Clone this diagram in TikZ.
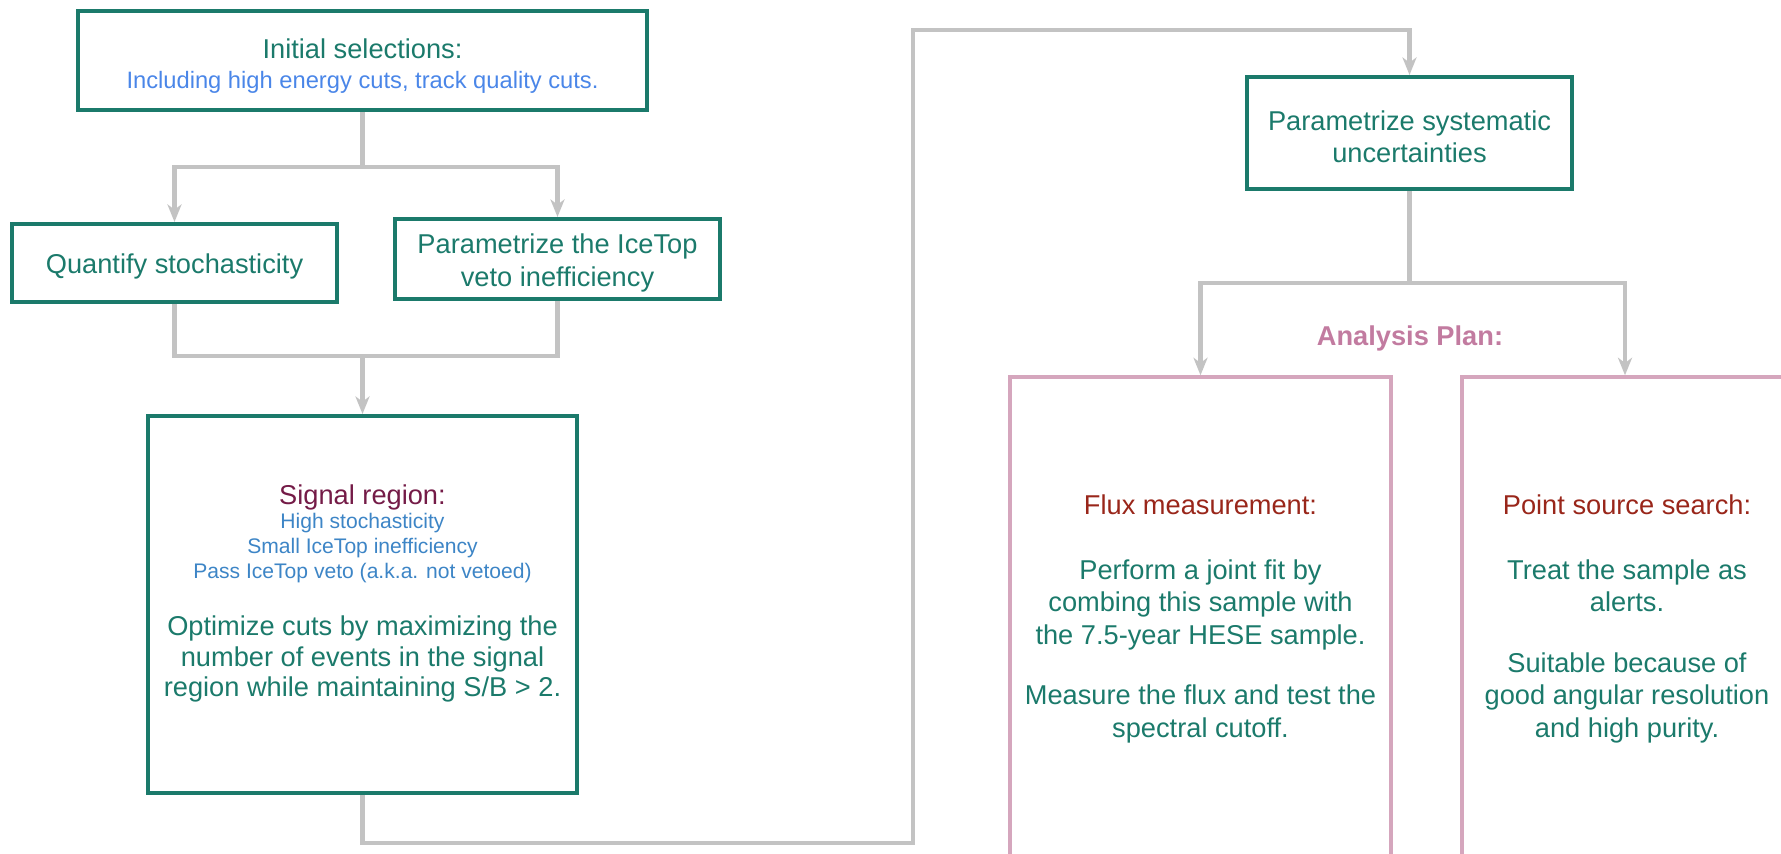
\documentclass[tikz,border=0pt]{standalone}
\usepackage{fontspec}
\setmainfont{Liberation Sans}
\usepackage{xcolor}
\usepackage{tikz}
\usetikzlibrary{arrows.meta}

\definecolor{stagegreen}{HTML}{1B7A6B}
\definecolor{cutblue}{HTML}{4A86E8}
\definecolor{regionblue}{HTML}{3D85C6}
\definecolor{regionred}{HTML}{741B47}
\definecolor{planred}{HTML}{99261A}
\definecolor{planpink}{HTML}{D5A6BD}
\definecolor{planlabel}{HTML}{C27BA0}
\definecolor{flowgray}{HTML}{C3C3C3}

% strut that pushes a box label a little down
\newcommand{\lowerby}[1]{\rule{0pt}{#1}}

\begin{document}
\begin{tikzpicture}[x=0.02cm, y=-0.02cm,
                stage/.style={draw=stagegreen, line width=2.3pt, text=stagegreen, align=center, inner sep=0pt,
                    font=\fontsize{15.5}{18.5}\selectfont},
                plan/.style={draw=planpink, line width=2pt},
                note/.style={align=center, text=stagegreen, font=\fontsize{15.5}{18.5}\selectfont},
                wire/.style={draw=flowgray, line width=2.8pt},
                flow/.style={wire, -{Stealth[length=10pt, width=8pt, inset=3pt]}}
            ]
                \useasboundingbox (0,0) rectangle (1781,853);

                % Selection steps (left column)
                \node[stage, minimum width=11.38cm, minimum height=1.98cm] (init) at (362.5,60.5)
                    {\lowerby{18pt}Initial selections:\\[-1.3pt]{\color{cutblue}\fontsize{13.5}{16}\selectfont Including high energy cuts, track quality cuts.}};
                \node[stage, minimum width=6.5cm, minimum height=1.56cm] (quant) at (174.5,263) {\lowerby{15pt}Quantify stochasticity};
                \node[stage, minimum width=6.5cm, minimum height=1.6cm] (iceveto) at (557.5,259) {\lowerby{15.5pt}Parametrize the IceTop\\veto inefficiency};
                \node[stage, minimum width=8.58cm, minimum height=7.54cm] (signal) at (362.5,604.5) {};

                % Text of the signal region box
                \node[note, text=regionred] (sigtitle) at (362.5,497.5) {Signal region:};
                \node[note, text=regionblue, font=\fontsize{12}{14.2}\selectfont] (sigcuts) at (362.5,548)
                    {High stochasticity\\Small IceTop inefficiency\\Pass IceTop veto (a.k.a. not vetoed)};
                \node[note, font=\fontsize{15.5}{17.4}\selectfont] (sigopt) at (362.5,659)
                    {Optimize cuts by maximizing the\\number of events in the signal\\region while maintaining S/B > 2.};

                % Systematics and analysis plan (right side)
                \node[stage, minimum width=6.5cm, minimum height=2.24cm] (syst) at (1409.5,133) {\lowerby{15.5pt}Parametrize systematic\\uncertainties};
                \node[font=\bfseries\fontsize{15.5}{18.5}\selectfont, text=planlabel] (plantitle) at (1410,338) {Analysis Plan:};
                \node[plan, minimum width=7.62cm, minimum height=10.06cm] (flux) at (1200.5,628.5) {};
                \node[plan, minimum width=6.52cm, minimum height=10.06cm] (point) at (1625,628.5) {};

                \node[note] (fluxtxt) at (1200.5,619)
                    {{\color{planred}Flux measurement:}\\[18pt]Perform a joint fit by\\combing this sample with\\the 7.5-year HESE sample.\\[16pt]Measure the flux and test the\\spectral cutoff.};
                \node[note] (pointtxt) at (1627,619)
                    {{\color{planred}Point source search:}\\[18pt]Treat the sample as\\alerts.\\[16pt]Suitable because of\\good angular resolution\\and high purity.};

                % Connectors
                \coordinate (fork) at (362.5,167);
                \draw[wire] (init.south) -- (fork);
                \draw[flow] (fork) -| (quant.north);
                \draw[flow] (fork) -| (iceveto.north);

                \coordinate (join) at (362.5,356);
                \draw[wire] (quant.south) |- (join);
                \draw[wire] (iceveto.south) |- (join);
                \draw[flow] (join) -- (signal.north);

                \coordinate (lowturn) at (913,843);
                \coordinate (highturn) at (913,30);
                \draw[flow] (signal.south) |- (lowturn) -- (highturn) -| (syst.north);

                \coordinate (split) at (1409.5,283);
                \draw[wire] (syst.south) -- (split);
                \draw[flow] (split) -| (flux.north);
                \draw[flow] (split) -| (point.north);
            \end{tikzpicture}
\end{document}
